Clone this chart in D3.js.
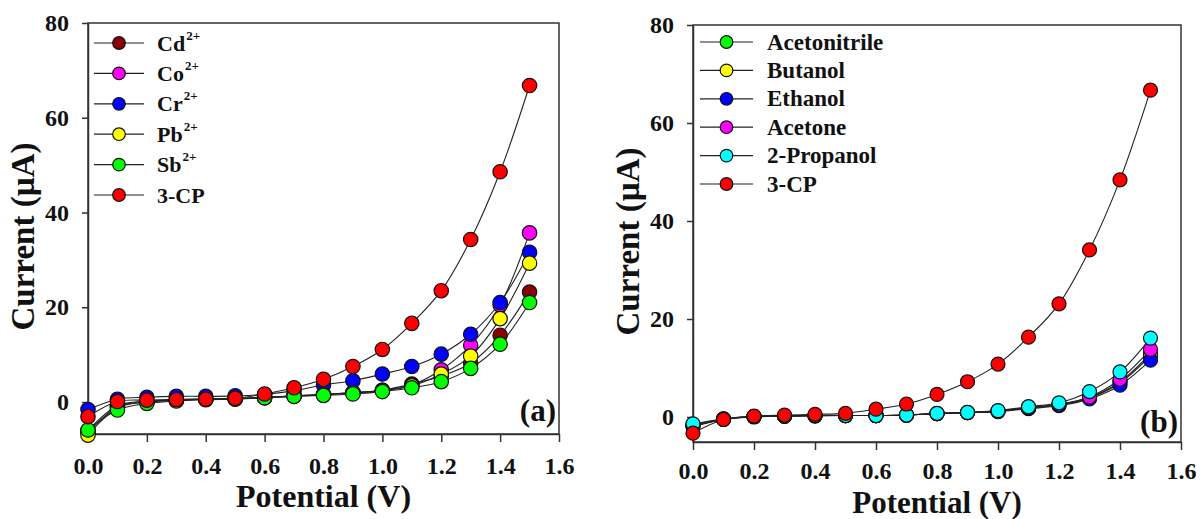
<!DOCTYPE html>
<html>
<head>
<meta charset="utf-8">
<script src="https://cdn.jsdelivr.net/npm/d3@7"></script>
<style>
  body { margin: 0; background: #fff; }
  svg text { font-family: "Liberation Serif", "Times New Roman", serif; font-weight: bold; }
</style>
</head>
<body>
<div id="chart"></div>
<script>
// potentials (V), shared by both panels
const potential = [0.0, 0.1, 0.2, 0.3, 0.4, 0.5, 0.6, 0.7, 0.8, 0.9, 1.0, 1.1, 1.2, 1.3, 1.4, 1.5];

// panel (a): interfering metal ions
const ionNames = ['Cd', 'Co', 'Cr', 'Pb', 'Sb', '3-CP'];
const ionSup = ['2+', '2+', '2+', '2+', '2+', ''];
const ionColors = ['#8b0000', '#ff00ff', '#0000ff', '#ffff00', '#00ff00', '#ff0000'];
const cdCurrent = [-6.5, -1.0, 0.0, 0.4, 0.6, 0.7, 0.9, 1.3, 1.6, 2.0, 2.5, 3.8, 5.5, 8.2, 14.1, 23.2];
const coCurrent = [-6.0, -0.8, 0.2, 0.5, 0.7, 0.8, 1.0, 1.3, 1.6, 2.0, 2.5, 3.6, 6.8, 12.0, 20.5, 35.7];
const crCurrent = [-1.6, 0.6, 1.0, 1.2, 1.2, 1.3, 1.6, 2.4, 3.6, 4.5, 5.9, 7.5, 10.1, 14.3, 21.0, 31.6];
const pbCurrent = [-7.0, -1.2, 0.0, 0.4, 0.6, 0.7, 0.9, 1.2, 1.5, 1.9, 2.4, 3.4, 5.9, 9.7, 17.6, 29.3];
const sbCurrent = [-5.9, -1.7, -0.3, 0.2, 0.5, 0.6, 0.9, 1.2, 1.4, 1.7, 2.2, 3.0, 4.3, 7.1, 12.2, 21.0];
const cpCurrentA = [-3.1, 0.1, 0.4, 0.5, 0.6, 0.8, 1.7, 3.0, 4.8, 7.5, 11.1, 16.6, 23.5, 34.3, 48.6, 66.8];

// panel (b): organic solvents
const solventNames = ['Acetonitrile', 'Butanol', 'Ethanol', 'Acetone', '2-Propanol', '3-CP'];
const solventColors = ['#00ff00', '#ffff00', '#0000ff', '#ff00ff', '#00ffff', '#ff0000'];
const acetonitrileCurrent = [-1.6, -0.4, 0.1, 0.2, 0.3, 0.3, 0.3, 0.4, 0.7, 0.9, 1.2, 1.9, 2.6, 4.0, 7.2, 13.0];
const butanolCurrent = [-1.7, -0.5, 0.1, 0.2, 0.3, 0.3, 0.3, 0.4, 0.7, 0.9, 1.2, 1.8, 2.5, 3.9, 7.0, 12.5];
const ethanolCurrent = [-2.0, -0.5, 0.0, 0.2, 0.2, 0.3, 0.3, 0.4, 0.7, 0.9, 1.1, 1.7, 2.3, 3.7, 6.5, 11.6];
const acetoneCurrent = [-1.8, -0.5, 0.1, 0.2, 0.3, 0.3, 0.3, 0.4, 0.7, 0.9, 1.2, 1.9, 2.6, 4.1, 7.7, 13.8];
const propanolCurrent = [-1.4, -0.4, 0.1, 0.2, 0.3, 0.3, 0.3, 0.4, 0.75, 0.95, 1.3, 2.1, 2.9, 5.2, 9.2, 16.1];
const cpCurrentB = [-3.3, -0.5, 0.2, 0.4, 0.55, 0.75, 1.6, 2.65, 4.6, 7.2, 10.8, 16.3, 23.1, 34.1, 48.4, 66.7];

const xTicks = [0.0, 0.2, 0.4, 0.6, 0.8, 1.0, 1.2, 1.4, 1.6];
const yTicks = [0, 20, 40, 60, 80];

const width = 1204, height = 519;

const svg = d3.select('#chart')
  .append('svg')
    .attr('width', width)
    .attr('height', height);

function drawPanel({left, right, top, bottom, yMin, series, names, sups, colors, tag, r, legend, title}) {
  const g = svg.append('g');

  const x = d3.scaleLinear().domain([0, 1.6]).range([left, right]);
  const y = d3.scaleLinear().domain([yMin, 80]).range([bottom, top]);

  // frame
  g.append('rect')
    .attr('x', left).attr('y', top)
    .attr('width', right - left).attr('height', bottom - top)
    .attr('fill', 'none')
    .attr('stroke', '#333')
    .attr('stroke-width', 1.5);

  const xAxis = g.append('g')
    .attr('transform', `translate(0,${bottom})`)
    .call(d3.axisBottom(x).tickValues(xTicks).tickFormat(d3.format('.1f'))
      .tickSize(8).tickSizeOuter(0).tickPadding(title.pad));
  const yAxis = g.append('g')
    .attr('transform', `translate(${left},0)`)
    .call(d3.axisLeft(y).tickValues(yTicks).tickFormat(d3.format('d'))
      .tickSize(6).tickSizeOuter(0).tickPadding(13));

  [xAxis, yAxis].forEach(a => {
    a.select('.domain').attr('stroke', '#333').attr('stroke-width', 1.5);
    a.selectAll('.tick line').attr('stroke', '#333').attr('stroke-width', 1.5);
    a.selectAll('.tick text')
      .attr('fill', '#111')
      .style('font-size', '24px')
      .style('font-family', '"Liberation Serif", serif')
      .style('font-weight', 'bold');
  });

  // axis titles
  g.append('text')
    .attr('x', (left + right) / 2)
    .attr('y', title.y)
    .attr('text-anchor', 'middle')
    .style('font-size', title.fs + 'px')
    .attr('fill', '#111')
    .text('Potential (V)');

  g.append('text')
    .attr('transform', `translate(${left - 54},${(top + bottom) / 2 + 8}) rotate(-90)`)
    .attr('text-anchor', 'middle')
    .style('font-size', '33px')
    .attr('fill', '#111')
    .text('Current (\u00b5A)');

  // curves
  const line = d3.line()
    .x(d => x(d[0]))
    .y(d => y(d[1]))
    .curve(d3.curveCatmullRom.alpha(0.5));

  series.forEach((vals, i) => {
    const pts = potential.map((p, j) => [p, vals[j]]);
    g.append('path')
      .datum(pts)
      .attr('fill', 'none')
      .attr('stroke', '#222')
      .attr('stroke-width', 1.1)
      .attr('d', line);
  });

  series.forEach((vals, i) => {
    g.append('g').selectAll('circle')
      .data(potential.map((p, j) => [p, vals[j]]))
      .join('circle')
        .attr('cx', d => x(d[0]))
        .attr('cy', d => y(d[1]))
        .attr('r', r)
        .attr('fill', colors[i])
        .attr('stroke', '#111')
        .attr('stroke-width', 1.2);
  });

  // legend
  const lg = g.append('g');
  names.forEach((name, i) => {
    const ly = legend.y0 + i * legend.dy;
    lg.append('line')
      .attr('x1', legend.x1).attr('x2', legend.x2)
      .attr('y1', ly).attr('y2', ly)
      .attr('stroke', '#222').attr('stroke-width', 1.2);
    lg.append('circle')
      .attr('cx', (legend.x1 + legend.x2) / 2).attr('cy', ly)
      .attr('r', 6.3)
      .attr('fill', colors[i])
      .attr('stroke', '#111').attr('stroke-width', 1.2);
    const t = lg.append('text')
      .attr('x', legend.tx).attr('y', ly + 7.5)
      .style('font-size', legend.fs + 'px')
      .attr('fill', '#111')
      .text(name);
    if (sups && sups[i]) {
      t.append('tspan')
        .attr('dy', -11)
        .attr('dx', 1)
        .style('font-size', '13px')
        .text(sups[i]);
    }
  });

  g.append('text')
    .attr('x', right - 3)
    .attr('y', tag.y)
    .attr('text-anchor', 'end')
    .style('font-size', '31px')
    .attr('fill', '#111')
    .text(tag.text);
}

drawPanel({
  left: 88, right: 559, top: 23, bottom: 434, yMin: -6.75,
  series: [cdCurrent, coCurrent, crCurrent, pbCurrent, sbCurrent, cpCurrentA],
  names: ionNames, sups: ionSup, colors: ionColors,
  tag: {text: '(a)', y: 421}, r: 7.2, title: {y: 507, fs: 32, pad: 15},
  legend: {x1: 94, x2: 144, tx: 157, y0: 43, dy: 30.4, fs: 22}
});

drawPanel({
  left: 693, right: 1181, top: 25, bottom: 442, yMin: -5.1,
  series: [acetonitrileCurrent, butanolCurrent, ethanolCurrent, acetoneCurrent, propanolCurrent, cpCurrentB],
  names: solventNames, sups: null, colors: solventColors,
  tag: {text: '(b)', y: 432}, r: 7, title: {y: 513, fs: 31, pad: 12},
  legend: {x1: 700, x2: 753, tx: 767, y0: 42, dy: 28.4, fs: 23}
});
</script>
</body>
</html>
